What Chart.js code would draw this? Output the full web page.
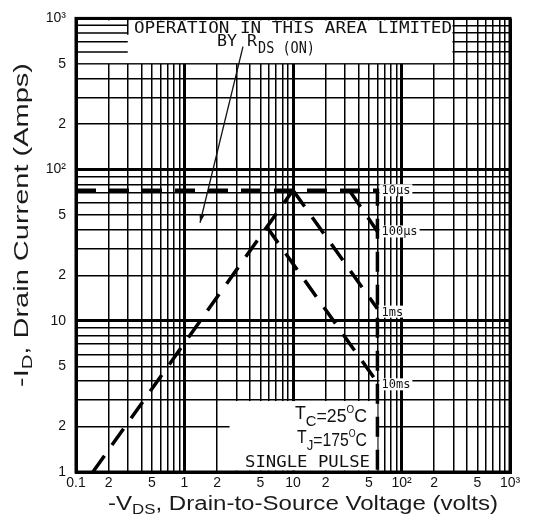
<!DOCTYPE html>
<html>
<head>
<meta charset="utf-8">
<script src="https://cdn.jsdelivr.net/npm/chart.js@4.4.1/dist/chart.umd.min.js"></script>
<style>
html, body { margin: 0; padding: 0; background: #fff; }
</style>
</head>
<body>
<canvas id="soa" width="533" height="529"></canvas>
<script>
// log paper grid lines
var xGrid = [0.1,0.2,0.3,0.4,0.5,0.6,0.7,0.8,0.9,1,2,3,4,5,6,7,8,9,10,20,30,40,50,60,70,80,90,100,200,300,400,500,600,700,800,900,1000];
var yGrid = [1,2,3,4,5,6,7,8,9,10,20,30,40,50,60,70,80,90,100,200,300,400,500,600,700,800,900,1000];

// tick labels
var xTickValues = [0.1,0.2,0.5,1,2,5,10,20,50,100,200,500,1000];
var xTickText = ['0.1','2','5','1','2','5','10','2','5','10²','2','5','10³'];
var yTickValues = [1,2,5,10,20,50,100,200,500,1000];
var yTickText = ['1','2','5','10','2','5','10²','2','5','10³'];

// curves: -VDS (volts) / -ID (amps)
var rdsV = [0.143, 10];      var rdsI = [1, 73];
var us10V = [0.1, 60, 60];   var us10I = [73, 73, 1];
var us100V = [33, 60];       var us100I = [73, 39];
var ms1V = [10, 60];         var ms1I = [73, 12];
var ms10V = [5.7, 60];       var ms10I = [42, 3.9];

// curve labels
var curveNames = ['10µs', '100µs', '1ms', '10ms'];
var curveLabelV = [64, 64, 64, 64];
var curveLabelI = [73, 39, 11.5, 3.8];

// note boxes and arrow (data units)
var topNoteV = [0.3, 300];   var topNoteI = [500, 1000];
var botNoteV = [2.6, 60];    var botNoteI = [1, 3];
var arrowV = [3.46, 1.39];   var arrowI = [650, 44.5];

function pts(vs, is) {
    return vs.map(function(v, k){ return {x: v, y: is[k]}; });
}

function isDecade(v) {
    var l = Math.log10(v);
    return Math.abs(l - Math.round(l)) < 1e-9;
}

var SANS = '"Liberation Sans", Arial, sans-serif';
var MONO = '"DejaVu Sans Mono", monospace';

// draw text runs (sub/superscripts), stretched to a given width
function drawRuns(ctx, runs, x, y, width, align) {
    var natural = 0;
    runs.forEach(function(r){ ctx.font = r[1]; natural += ctx.measureText(r[0]).width; });
    var s = width ? width / natural : 1;
    var w = natural * s;
    ctx.save();
    ctx.translate(align === 'right' ? x - w : x, y);
    ctx.scale(s, 1);
    var cx = 0;
    runs.forEach(function(r){
        ctx.font = r[1];
        ctx.fillText(r[0], cx, r[2]);
        cx += ctx.measureText(r[0]).width;
    });
    ctx.restore();
}

var sheetPlugin = {
    id: 'sheet',
    beforeDatasetsDraw: function(chart) {
        var ctx = chart.ctx, a = chart.chartArea;
        var xs = chart.scales.x, ys = chart.scales.y;
        ctx.save();
        ctx.fillStyle = '#fff';
        // top band: note box plus the bare strip left of it
        var yTop = ys.getPixelForValue(topNoteI[1]);
        var yBot = ys.getPixelForValue(topNoteI[0]);
        var xR = xs.getPixelForValue(topNoteV[1]);
        var xL = xs.getPixelForValue(topNoteV[0]);
        ctx.fillRect(a.left + 2, yTop + 2, xR - a.left - 2.8, yBot - yTop - 2.8);
        ctx.strokeStyle = '#000';
        ctx.lineWidth = 1.5;
        yGrid.forEach(function(v){
            if (v > topNoteI[0] && v < topNoteI[1]) {
                var yy = ys.getPixelForValue(v);
                ctx.beginPath(); ctx.moveTo(a.left, yy); ctx.lineTo(xL, yy); ctx.stroke();
            }
        });
        ctx.beginPath();
        ctx.moveTo(xL, yTop);
        ctx.lineTo(xL, ys.getPixelForValue(780));
        ctx.stroke();
        // bottom note box
        var bx0 = xs.getPixelForValue(botNoteV[0]);
        var bx1 = xs.getPixelForValue(botNoteV[1]);
        var by0 = ys.getPixelForValue(botNoteI[1]);
        var by1 = ys.getPixelForValue(botNoteI[0]);
        ctx.fillRect(bx0, by0 + 1.2, bx1 - bx0, by1 - by0 - 2.6);
        // label backgrounds
        ctx.font = '12px ' + MONO;
        curveNames.forEach(function(n, k){
            var lx = xs.getPixelForValue(curveLabelV[k]);
            var ly = ys.getPixelForValue(curveLabelI[k]);
            var w = ctx.measureText(n).width;
            ctx.fillRect(lx - 1, ly - 6, w + 4, 12);
        });
        // frame
        ctx.lineWidth = 3;
        ctx.strokeRect(a.left, a.top, a.right - a.left, a.bottom - a.top);
        ctx.restore();
    },
    afterDatasetsDraw: function(chart) {
        var ctx = chart.ctx;
        var xs = chart.scales.x, ys = chart.scales.y;
        ctx.save();
        ctx.fillStyle = '#111';
        ctx.textBaseline = 'alphabetic';
        // curve labels
        ctx.font = '12px ' + MONO;
        curveNames.forEach(function(n, k){
            ctx.fillText(n, xs.getPixelForValue(curveLabelV[k]) + 1, ys.getPixelForValue(curveLabelI[k]) + 4);
        });
        // top note
        drawRuns(ctx, [['OPERATION IN THIS AREA LIMITED', '16px ' + MONO, 0]], 134, 33, 318);
        drawRuns(ctx, [['BY R', '16px ' + MONO, 0]], 217, 46, 40);
        drawRuns(ctx, [['DS (ON)', '15px ' + MONO, 0]], 258, 53, 57);
        // bottom note
        drawRuns(ctx, [['T', '18px ' + SANS, -3], ['C', '15px ' + SANS, 4], ['=25', '18px ' + SANS, 0],
                       ['O', '10px ' + SANS, -9], ['C', '18px ' + SANS, 0]], 367, 422, 72, 'right');
        drawRuns(ctx, [['T', '18px ' + SANS, -3], ['J', '15px ' + SANS, 4], ['=175', '18px ' + SANS, 0],
                       ['O', '10px ' + SANS, -9], ['C', '18px ' + SANS, 0]], 367, 446, 70, 'right');
        drawRuns(ctx, [['SINGLE PULSE', '16px ' + MONO, 0]], 245, 467, 125);
        // arrow
        var x0 = xs.getPixelForValue(arrowV[0]), y0 = ys.getPixelForValue(arrowI[0]);
        var x1 = xs.getPixelForValue(arrowV[1]), y1 = ys.getPixelForValue(arrowI[1]);
        ctx.strokeStyle = '#111';
        ctx.lineWidth = 1.3;
        ctx.beginPath(); ctx.moveTo(x0, y0); ctx.lineTo(x1, y1); ctx.stroke();
        var ang = Math.atan2(y1 - y0, x1 - x0);
        ctx.beginPath();
        ctx.moveTo(x1, y1);
        ctx.lineTo(x1 - 9 * Math.cos(ang - 0.3), y1 - 9 * Math.sin(ang - 0.3));
        ctx.lineTo(x1 - 9 * Math.cos(ang + 0.3), y1 - 9 * Math.sin(ang + 0.3));
        ctx.closePath();
        ctx.fill();
        ctx.restore();
    },
    afterDraw: function(chart) {
        var ctx = chart.ctx;
        ctx.save();
        ctx.fillStyle = '#1a1a1a';
        ctx.textBaseline = 'alphabetic';
        drawRuns(ctx, [['-V', '20px ' + SANS, 0], ['DS', '14px ' + SANS, 4],
                       [', Drain-to-Source Voltage (volts)', '20px ' + SANS, 0]], 108, 510, 390);
        ctx.translate(28, 387);
        ctx.rotate(-Math.PI / 2);
        drawRuns(ctx, [['-I', '20px ' + SANS, 0], ['D', '14px ' + SANS, 4],
                       [', Drain Current (Amps)', '20px ' + SANS, 0]], 0, 0, 324);
        ctx.restore();
    }
};

function lineSet(vs, is) {
    return {
        data: pts(vs, is),
        showLine: true,
        borderColor: '#000',
        borderWidth: 3.5,
        borderDash: [20, 13],
        pointRadius: 0,
        tension: 0,
        fill: false
    };
}

var gridOpts = {
    color: '#000',
    lineWidth: function(c){ return (c.tick && isDecade(c.tick.value)) ? 3 : 1.5; },
    drawTicks: false
};

new Chart(document.getElementById('soa'), {
    type: 'scatter',
    data: {
        datasets: [
            lineSet(rdsV, rdsI),
            lineSet(us10V, us10I),
            lineSet(us100V, us100I),
            lineSet(ms1V, ms1I),
            lineSet(ms10V, ms10I)
        ]
    },
    options: {
        responsive: false,
        animation: false,
        devicePixelRatio: 1,
        layout: { padding: { top: 17, right: 23, left: 0, bottom: 0 } },
        plugins: { legend: { display: false }, tooltip: { enabled: false } },
        scales: {
            x: {
                type: 'logarithmic',
                min: 0.1, max: 1000,
                afterBuildTicks: function(axis){ axis.ticks = xGrid.map(function(v){ return {value: v}; }); },
                afterFit: function(axis){ axis.height = 57; },
                grid: gridOpts,
                border: { display: true, width: 3, color: '#000' },
                ticks: {
                    autoSkip: false, maxRotation: 0, padding: 3,
                    color: '#111', font: { family: SANS, size: 14 },
                    callback: function(v){ var k = xTickValues.indexOf(v); return k >= 0 ? xTickText[k] : ''; }
                }
            },
            y: {
                type: 'logarithmic',
                min: 1, max: 1000,
                afterBuildTicks: function(axis){ axis.ticks = yGrid.map(function(v){ return {value: v}; }); },
                afterFit: function(axis){ axis.width = 76; },
                grid: gridOpts,
                border: { display: true, width: 3, color: '#000' },
                ticks: {
                    autoSkip: false, padding: 10,
                    color: '#111', font: { family: SANS, size: 14 },
                    callback: function(v){ var k = yTickValues.indexOf(v); return k >= 0 ? yTickText[k] : ''; }
                }
            }
        }
    },
    plugins: [sheetPlugin]
});
</script>
</body>
</html>
